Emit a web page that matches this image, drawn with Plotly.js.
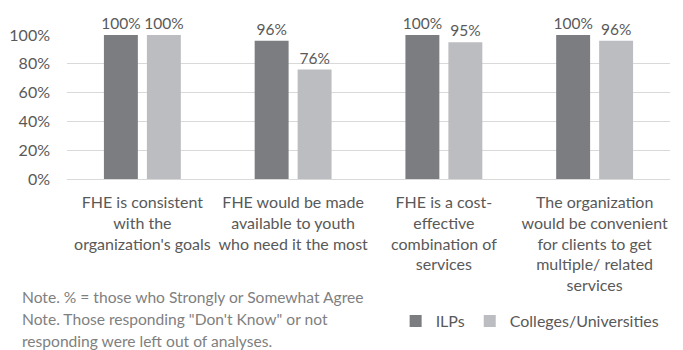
<!DOCTYPE html>
<html><head><meta charset="utf-8">
<script src="https://cdn.plot.ly/plotly-3.0.1.min.js"></script>
<style>html,body{margin:0;padding:0;background:#fff}</style>
</head><body><div id="chart" style="width:683px;height:350px"></div>
<script>
const categories = [
  "FHE is consistent<br>with the<br>organization's goals",
  "FHE would be made<br>available to youth<br>who need it the most",
  "FHE is a cost-<br>effective<br>combination of<br>services",
  "The organization<br>would be convenient<br>for clients to get<br>multiple/ related<br>services"
];
const seriesNames = ["ILPs", "Colleges/Universities"];
const ilps = [1.00, 0.96, 1.00, 1.00];
const colleges = [1.00, 0.76, 0.95, 0.96];
const yTicks = [0, 0.2, 0.4, 0.6, 0.8, 1.0];
const yTickLabels = ["0%", "20%", "40%", "60%", "80%", "100%"];
const notes = [
  "Note. % = those who Strongly or Somewhat Agree",
  "Note. Those responding \"Don't Know\" or not",
  "responding were left out of analyses."
];

const FONT = "Lato, 'Open Sans', sans-serif";
const TXT = "#595959";
const idx = categories.map((_, i) => i);
const pct = v => Math.round(v * 100) + "%";

const traces = [
  {type: "bar", name: seriesNames[0], x: idx, y: ilps, text: ilps.map(pct),
   textposition: "outside", constraintext: "none", cliponaxis: false, marker: {color: "#7c7d81"},
   textfont: {family: FONT, size: 15.5, color: TXT}, hoverinfo: "skip"},
  {type: "bar", name: seriesNames[1], x: idx, y: colleges, text: colleges.map(pct),
   textposition: "outside", constraintext: "none", cliponaxis: false, marker: {color: "#bcbdc1"},
   textfont: {family: FONT, size: 15.5, color: TXT}, hoverinfo: "skip"}
];

const annotations = notes.map((t, i) => ({
  text: t, xref: "paper", yref: "paper", x: -0.078, y: 0, xanchor: "left", yanchor: "middle",
  yshift: -118 - i * 22, showarrow: false, font: {family: FONT, size: 15.6, color: "#7f7f7f"}
}));

const layout = {
  width: 683, height: 350,
  margin: {l: 67, r: 13, t: 35, b: 168},
  paper_bgcolor: "#fff", plot_bgcolor: "#fff",
  barmode: "group", bargap: 0.43, bargroupgap: 0.21,
  font: {family: FONT, color: TXT, size: 16},
  xaxis: {tickvals: idx, ticktext: categories, range: [-0.5, 3.5], showgrid: false,
          showline: false, zeroline: false, ticks: "", ticklabelstandoff: 12,
          tickfont: {family: FONT, size: 16, color: TXT}},
  yaxis: {range: [0, 1], tickvals: yTicks, ticktext: yTickLabels, showgrid: true,
          gridcolor: "#d9d9d9", gridwidth: 1, zeroline: true, zerolinecolor: "#d9d9d9", zerolinewidth: 1,
          showline: false, ticks: "", ticklabelstandoff: 16,
          tickfont: {family: FONT, size: 16, color: TXT}},
  showlegend: true,
  legend: {orientation: "h", x: 0.545, y: -0.987, xanchor: "left", yanchor: "middle",
           font: {family: FONT, size: 16, color: TXT}, itemwidth: 30, traceorder: "normal",
           bgcolor: "rgba(0,0,0,0)"},
  annotations: annotations
};

Plotly.newPlot("chart", traces, layout, {displayModeBar: false, staticPlot: true});
</script></body></html>
